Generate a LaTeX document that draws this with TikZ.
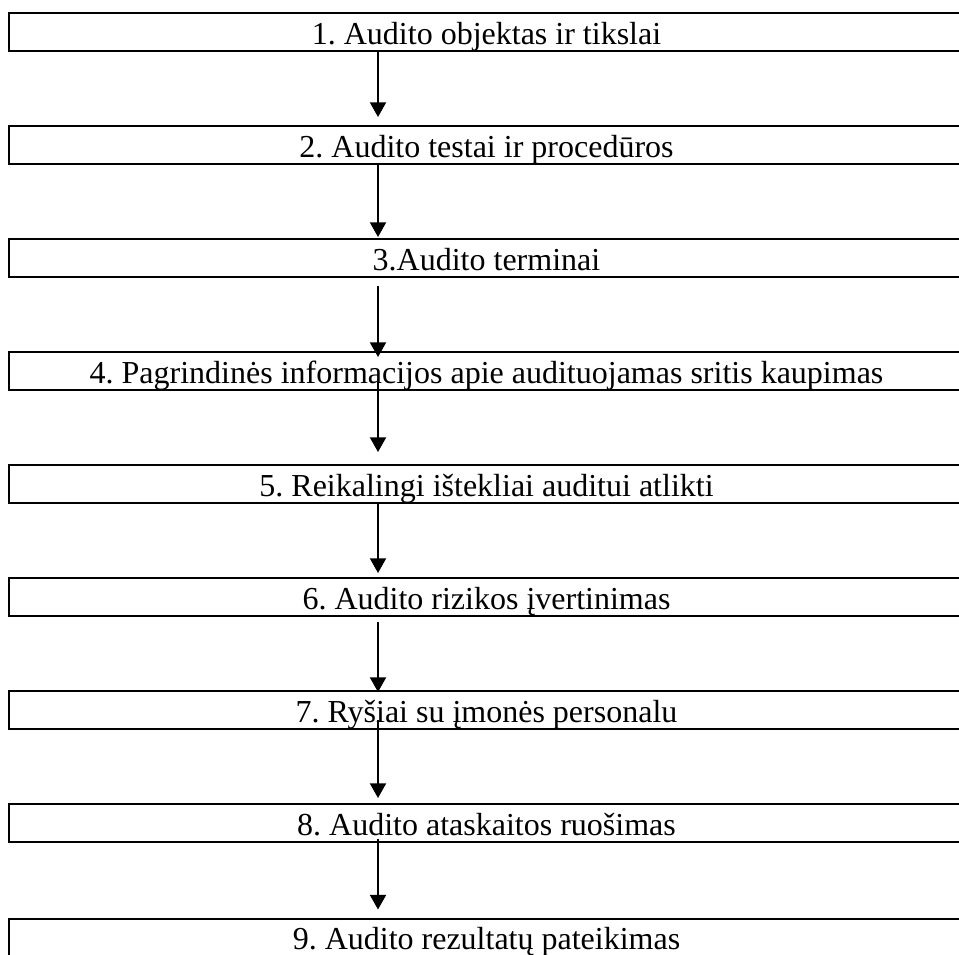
\documentclass[tikz,border=0pt]{standalone}
\usepackage{fontspec}
\setmainfont{Liberation Serif}
\usetikzlibrary{arrows.meta,calc}
\frenchspacing

\begin{document}
\begin{tikzpicture}[x=0.75pt, y=-0.75pt]
\tikzstyle{etape} = [draw, line width=1.5pt, anchor=north, inner xsep=0pt, inner ysep=0pt,
  minimum width=716.25pt, text height=23.25pt, text depth=5.25pt,
  font=\fontsize{24}{28}\selectfont];
\tikzstyle{fleche} = [line width=1.5pt, -{Triangle[width=12pt,length=11pt]}];
\useasboundingbox (0,0) rectangle (959,954);
\clip (0,0) rectangle (959,954);

\node[etape] (e1) at (486.5, 12) {1. Audito objektas ir tikslai};
\node[etape] (e2) at (486.5, 125) {2. Audito testai ir procedūros};
\node[etape] (e3) at (486.5, 238) {3.Audito terminai};
\node[etape] (e4) at (486.5, 351) {4. Pagrindinės informacijos apie audituojamas sritis kaupimas};
\node[etape] (e5) at (486.5, 464) {5. Reikalingi ištekliai auditui atlikti};
\node[etape] (e6) at (486.5, 577) {6. Audito rizikos įvertinimas};
\node[etape] (e7) at (486.5, 690) {7. Ryšiai su įmonės personalu};
\node[etape] (e8) at (486.5, 803) {8. Audito ataskaitos ruošimas};
\node[etape] (e9) at (486.5, 917.5) {9. Audito rezultatų pateikimas};

\draw[fleche] ($(e1.south)+(-108.5,0)$) -- ($(e2.north)+(-108.5,-8)$);
\draw[fleche] ($(e2.south)+(-108.5,0)$) -- ($(e3.north)+(-108.5,-1)$);
\draw[fleche] ($(e3.south)+(-108.5,8)$) -- ($(e4.north)+(-108.5,6)$);
\draw[fleche] ($(e4.south)+(-108.5,-9)$) -- ($(e5.north)+(-108.5,-12)$);
\draw[fleche] ($(e5.south)+(-108.5,0)$) -- ($(e6.north)+(-108.5,-4)$);
\draw[fleche] ($(e6.south)+(-108.5,5)$) -- ($(e7.north)+(-108.5,2)$);
\draw[fleche] ($(e7.south)+(-108.5,-10)$) -- ($(e8.north)+(-108.5,-5)$);
\draw[fleche] ($(e8.south)+(-108.5,-4)$) -- ($(e9.north)+(-108.5,-8)$);
\end{tikzpicture}
\end{document}
